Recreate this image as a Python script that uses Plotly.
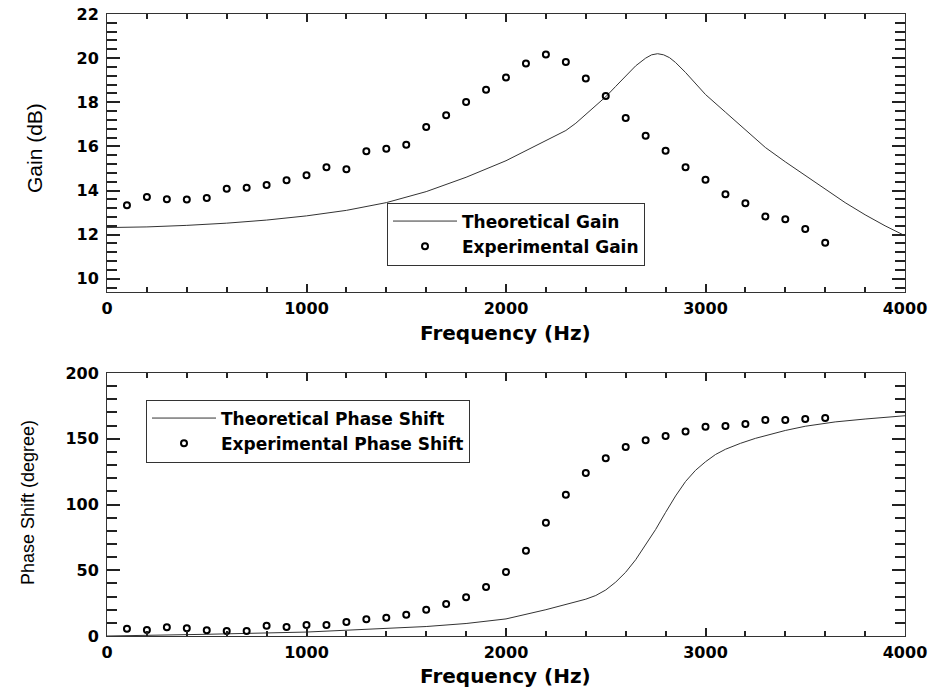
import plotly.graph_objects as go

# ---------------- data ----------------
exp_freq = [100, 200, 300, 400, 500, 600, 700, 800, 900, 1000, 1100, 1200,
            1300, 1400, 1500, 1600, 1700, 1800, 1900, 2000, 2100, 2200, 2300, 2400,
            2500, 2600, 2700, 2800, 2900, 3000, 3100, 3200, 3300, 3400, 3500, 3600]
exp_gain = [13.33, 13.71, 13.6, 13.59, 13.66, 14.08, 14.13, 14.25, 14.46, 14.69, 15.05, 14.96,
            15.78, 15.89, 16.07, 16.88, 17.41, 18.01, 18.57, 19.12, 19.76, 20.16, 19.82, 19.08,
            18.28, 17.29, 16.48, 15.80, 15.05, 14.49, 13.83, 13.42, 12.82, 12.70, 12.26, 11.63]
exp_phase = [5.6, 4.6, 6.6, 5.8, 4.3, 3.8, 3.8, 7.8, 6.8, 8.4, 8.4, 10.6,
             12.7, 13.9, 16.2, 20.0, 24.3, 29.4, 37.3, 48.7, 64.9, 86.2, 107.5, 124.0,
             135.1, 143.7, 148.8, 152.1, 155.6, 159.2, 159.7, 161.2, 164.3, 164.3, 165.0, 165.8]

th_gain_freq = [0, 200, 400, 600, 800, 1000, 1200, 1400, 1600, 1800, 2000, 2100, 2200, 2300,
                2350, 2400, 2450, 2500, 2550, 2600, 2650, 2700, 2730, 2760, 2790, 2820, 2850,
                2900, 2950, 3000, 3100, 3200, 3300, 3400, 3500, 3600, 3700, 3800, 3900, 4000]
th_gain = [12.32, 12.35, 12.42, 12.52, 12.66, 12.85, 13.1, 13.45, 13.95, 14.6, 15.35, 15.8, 16.25, 16.72,
           17.05, 17.45, 17.85, 18.25, 18.72, 19.2, 19.65, 20.0, 20.15, 20.2, 20.15, 20.02, 19.8,
           19.35, 18.85, 18.35, 17.55, 16.75, 15.95, 15.3, 14.68, 14.05, 13.45, 12.9, 12.4, 11.95]

th_phase_freq = [0, 200, 500, 1000, 1400, 1600, 1800, 2000, 2200, 2300, 2400, 2450, 2500, 2550,
                 2600, 2650, 2700, 2750, 2800, 2850, 2900, 2950, 3000, 3050, 3100, 3175, 3250,
                 3400, 3500, 3650, 3800, 4000]
th_phase = [0, 0.4, 1.3, 3.0, 5.5, 7.2, 9.5, 13.0, 20.0, 24.0, 28.0, 30.8, 35.0, 41.0,
            48.5, 58.0, 69.0, 81.0, 94.0, 106.5, 117.5, 126.0, 132.5, 138.0, 142.0, 146.5, 150.3,
            156.3, 159.5, 162.8, 165.0, 167.5]

x_ticks = [0, 1000, 2000, 3000, 4000]
gain_ticks = [10, 12, 14, 16, 18, 20, 22]
phase_ticks = [0, 50, 100, 150, 200]

# ---------------- figure ----------------
W, H = 933, 690
TICKFONT = dict(family="DejaVu Sans", size=16, color="black", weight="bold")
LEGFONT = dict(family="DejaVu Sans", size=17, color="black", weight="bold")
LINE = dict(color="#333333", width=1)
MARK = dict(symbol="circle-open", size=6, color="black", line=dict(width=2, color="black"))

fig = go.Figure()
fig.add_trace(go.Scatter(x=th_gain_freq, y=th_gain, mode="lines", line=LINE,
                         name="Theoretical Gain", xaxis="x", yaxis="y", legend="legend"))
fig.add_trace(go.Scatter(x=exp_freq, y=exp_gain, mode="markers", marker=MARK,
                         name="Experimental Gain", xaxis="x", yaxis="y", legend="legend"))
fig.add_trace(go.Scatter(x=th_phase_freq, y=th_phase, mode="lines", line=LINE,
                         name="Theoretical Phase Shift", xaxis="x2", yaxis="y2", legend="legend2"))
fig.add_trace(go.Scatter(x=exp_freq, y=exp_phase, mode="markers", marker=MARK,
                         name="Experimental Phase Shift", xaxis="x2", yaxis="y2", legend="legend2"))

def xaxis(domain, anchor):
    return dict(domain=domain, anchor=anchor, range=[0, 4000], tickvals=x_ticks,
                automargin=False,
                showgrid=False, zeroline=False, showline=True, linecolor="#333333", linewidth=1,
                mirror="allticks", ticks="inside", ticklen=8, tickwidth=2, tickcolor="#222222",
                tickfont=TICKFONT, ticklabelstandoff=2,
                minor=dict(dtick=200, tick0=0, ticks="inside", ticklen=5, tickwidth=1.5,
                           tickcolor="#222222", showgrid=False))

def yaxis(domain, anchor, rng, ticks, minor_dt, tick0):
    return dict(domain=domain, anchor=anchor, range=rng, tickvals=ticks,
                automargin=False,
                showgrid=False, zeroline=False, showline=True, linecolor="#333333", linewidth=1,
                mirror="allticks", ticks="inside", ticklen=13, tickwidth=2, tickcolor="#222222",
                tickfont=TICKFONT, ticklabelstandoff=4,
                minor=dict(dtick=minor_dt, tick0=tick0, ticks="inside", ticklen=10, tickwidth=1.5,
                           tickcolor="#222222", showgrid=False))

xd = [107 / W, 905 / W]
fig.update_layout(
    width=W, height=H, margin=dict(l=0, r=0, t=0, b=0, autoexpand=False),
    paper_bgcolor="white", plot_bgcolor="white",
    xaxis=xaxis(xd, "y"),
    yaxis=yaxis([1 - 292 / H, 1 - 14 / H], "x", [9.4, 22], gain_ticks, 0.4, 10),
    xaxis2=xaxis(xd, "y2"),
    yaxis2=yaxis([1 - 636 / H, 1 - 373 / H], "x2", [0, 200], phase_ticks, 10, 0),
    legend=dict(x=387 / W, y=1 - 234 / H, xanchor="left", yanchor="middle",
                bordercolor="#333333", borderwidth=1, bgcolor="white",
                font=LEGFONT, itemwidth=64, tracegroupgap=0, traceorder="normal"),
    legend2=dict(x=146 / W, y=1 - 431 / H, xanchor="left", yanchor="middle",
                 bordercolor="#333333", borderwidth=1, bgcolor="white",
                 font=LEGFONT, itemwidth=64, tracegroupgap=0, traceorder="normal"),
    showlegend=True,
)

TITLEFONT = dict(family="DejaVu Sans", size=20, color="black", weight="bold")
fig.add_annotation(text="Frequency (Hz)", x=505 / W, y=1 - 333 / H, xref="paper", yref="paper",
                   showarrow=False, font=TITLEFONT, xanchor="center", yanchor="middle")
fig.add_annotation(text="Frequency (Hz)", x=505 / W, y=1 - 676 / H, xref="paper", yref="paper",
                   showarrow=False, font=TITLEFONT, xanchor="center", yanchor="middle")
fig.add_annotation(text="Gain (dB)", x=34 / W, y=1 - 148 / H, xref="paper", yref="paper",
                   showarrow=False, font=dict(family="Liberation Sans", size=21, color="black"),
                   textangle=-90, xanchor="center", yanchor="middle")
fig.add_annotation(text="Phase Shift (degree)", x=28 / W, y=1 - 503 / H, xref="paper", yref="paper",
                   showarrow=False, font=dict(family="Liberation Sans", size=18, color="black"),
                   textangle=-90, xanchor="center", yanchor="middle")

fig.write_html("out.html")
